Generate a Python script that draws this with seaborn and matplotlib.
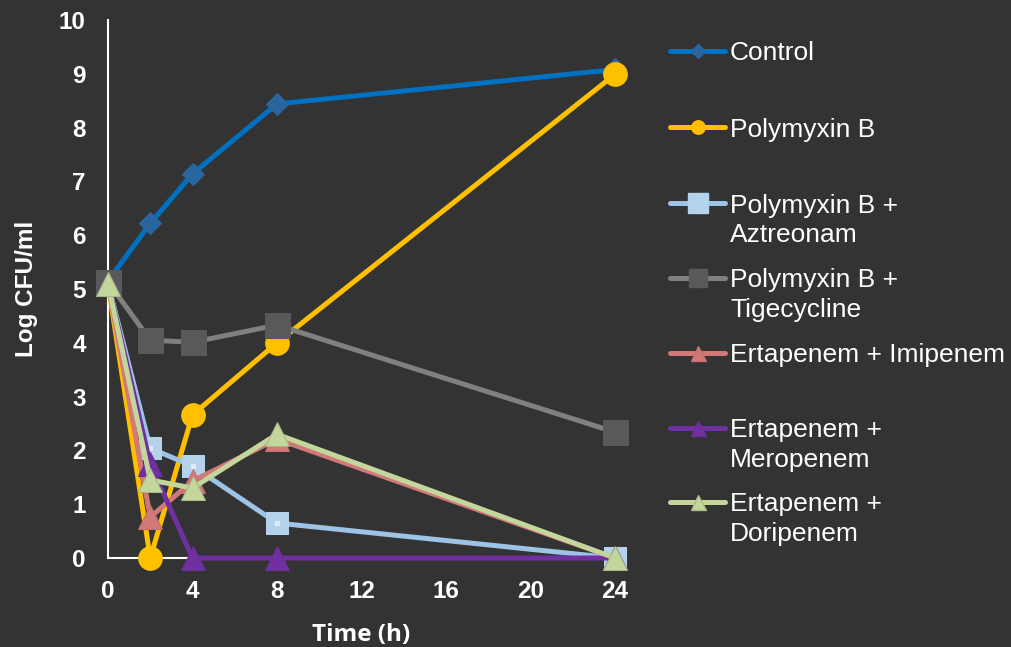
import matplotlib
matplotlib.use("Agg")
import matplotlib.pyplot as plt
from matplotlib.lines import Line2D
import seaborn as sns
import pandas as pd

# Time-kill data (log CFU/ml over 24 h)
hours = [0, 2, 4, 8, 24]
control = [5.15, 6.22, 7.14, 8.44, 9.08]
polymyxin_b = [5.10, 0.0, 2.66, 4.00, 8.99]
pmb_aztreonam = [5.10, 2.04, 1.71, 0.65, 0.0]
pmb_tigecycline = [5.13, 4.05, 4.01, 4.33, 2.34]
ert_imipenem = [5.10, 0.76, 1.43, 2.21, 0.0]
ert_meropenem = [5.10, 1.75, 0.0, 0.0, 0.0]
ert_doripenem = [5.10, 1.45, 1.30, 2.30, 0.0]

series_names = ["Control", "Polymyxin B", "Polymyxin B +\nAztreonam",
                "Polymyxin B +\nTigecycline", "Ertapenem + Imipenem",
                "Ertapenem +\nMeropenem", "Ertapenem +\nDoripenem"]
series_values = [control, polymyxin_b, pmb_aztreonam, pmb_tigecycline,
                 ert_imipenem, ert_meropenem, ert_doripenem]

x_ticks = [0, 4, 8, 12, 16, 20, 24]
y_ticks = list(range(0, 11))

styles = [
    dict(color="#0070C0", marker="D", markersize=10.7, markerfacecolor="#2B65A0", markeredgecolor="#2B65A0"),
    dict(color="#FFC000", marker="o", markersize=17, markerfacecolor="#FFC000", markeredgecolor="#FFC000"),
    dict(color="#9DC3E6", marker="s", markersize=15.5, markerfacecolor="#B4D2EC", markeredgecolor="#B4D2EC"),
    dict(color="#808080", marker="s", markersize=18, markerfacecolor="#595959", markeredgecolor="#595959"),
    dict(color="#D27878", marker="^", markersize=17, markerfacecolor="#D27878", markeredgecolor="#C47070"),
    dict(color="#7030A0", marker="^", markersize=17, markerfacecolor="#7030A0", markeredgecolor="#6A2E98"),
    dict(color="#C3D69B", marker="^", markersize=17, markerfacecolor="#C3D69B", markeredgecolor="#A8B888"),
]
# marker sizes used in the legend handles
legend_marker_sizes = [6.8, 9.7, 14.0, 12.3, 10.8, 10.8, 10.8]

frames = []
for name, vals in zip(series_names, series_values):
    frames.append(pd.DataFrame({"time": hours, "logcfu": vals, "group": name}))
df = pd.concat(frames, ignore_index=True)

sns.set_theme(style="dark")
bg = "#333333"
plt.rcParams["font.family"] = ["Liberation Sans", "DejaVu Sans"]

fig = plt.figure(figsize=(10.11, 6.47), dpi=100, facecolor=bg)
ax = fig.add_axes([108 / 1011, 1 - 558 / 647, (615 - 108) / 1011, (558 - 20) / 647])
ax.set_facecolor(bg)

for i, name in enumerate(series_names):
    sub = df[df["group"] == name]
    st = styles[i]
    sns.lineplot(data=sub, x="time", y="logcfu", ax=ax, legend=False,
                 linewidth=3.6, clip_on=False, zorder=3 + i, **st)
    if i == 2:
        # small highlight at the centre of each square marker
        ax.plot(sub["time"], sub["logcfu"], linestyle="none", marker="s",
                markersize=3, color="#DEEBF7", clip_on=False, zorder=3 + i)

ax.set_xlim(0, 24)
ax.set_ylim(0, 10)
ax.set_xticks(x_ticks)
ax.set_yticks(y_ticks)
ax.tick_params(axis="both", length=0, pad=16, labelcolor="white", labelsize=17.5)
for lab in ax.get_xticklabels() + ax.get_yticklabels():
    lab.set_fontweight("bold")
ax.grid(False)

for side in ["top", "right"]:
    ax.spines[side].set_visible(False)
for side in ["left", "bottom"]:
    ax.spines[side].set_visible(True)
    ax.spines[side].set_color("white")
    ax.spines[side].set_linewidth(1.5)
    ax.spines[side].set_zorder(2)

ax.set_xlabel("Time (h)", color="white", fontsize=17.5, fontweight="bold",
              family=["Open Sans", "DejaVu Sans"], labelpad=14)
ax.set_ylabel("Log CFU/ml", color="white", fontsize=17.5, fontweight="bold", labelpad=15)

# Legend on the right, handle aligned with the first line of each label
legend_y = [51, 127, 203, 278, 353, 428, 502]
line_gap = 30
for i, name in enumerate(series_names):
    st = styles[i]
    yf = 1 - legend_y[i] / 647
    fig.add_artist(Line2D([670 / 1011, 725 / 1011], [yf, yf], transform=fig.transFigure,
                          color=st["color"], linewidth=3.6))
    fig.add_artist(Line2D([697.5 / 1011], [yf], transform=fig.transFigure,
                          marker=st["marker"], markersize=legend_marker_sizes[i],
                          markerfacecolor=st["markerfacecolor"],
                          markeredgecolor=st["markeredgecolor"], linestyle="none"))
    for j, part in enumerate(name.split("\n")):
        fig.text(730 / 1011, 1 - (legend_y[i] + 2.5 + j * line_gap) / 647, part,
                 color="white", fontsize=19, va="center", ha="left")

fig.savefig("out.png", dpi=100, facecolor=bg)
